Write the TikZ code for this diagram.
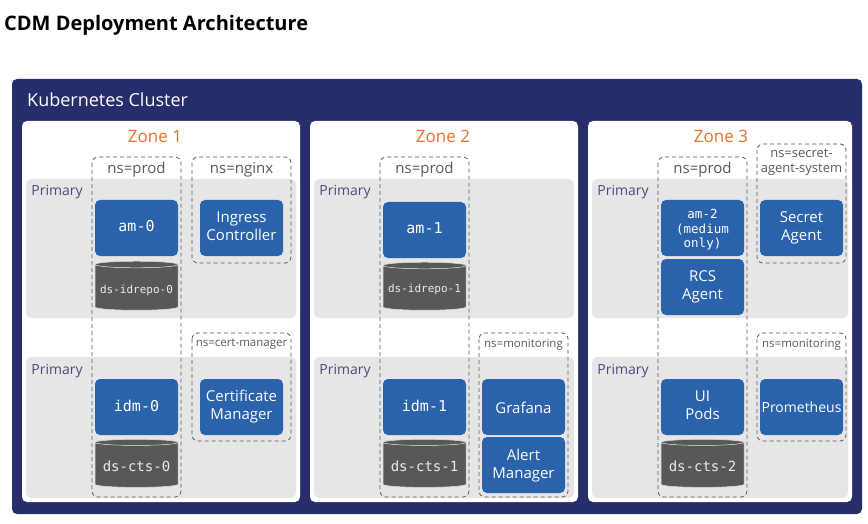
\documentclass[tikz,border=0pt]{standalone}
\usepackage{fontspec}
\setmainfont{Open Sans}
\setmonofont{DejaVu Sans Mono}
\usetikzlibrary{shapes.geometric}
\definecolor{clusterblue}{HTML}{262D6A}
\definecolor{podblue}{HTML}{2A62AC}
\definecolor{panelgray}{HTML}{E6E6E6}
\definecolor{dbgray}{HTML}{585858}
\definecolor{zoneorange}{HTML}{E8702A}
\definecolor{nsgray}{HTML}{5A5A5A}
\tikzset{textdrop/.style={execute at begin node={\rule{0pt}{#1pt}}}}
\tikzstyle{cluster}   = [fill=clusterblue, rounded corners=5pt]
\tikzstyle{zone}      = [fill=white, rounded corners=5pt]
\tikzstyle{panel}     = [fill=panelgray, rounded corners=5pt]
\tikzstyle{nsbox}     = [draw=nsgray, dashed, dash pattern=on 4pt off 3pt, line width=0.8pt, rounded corners=6pt]
\tikzstyle{pod}       = [fill=podblue, rounded corners=5pt, minimum width=83pt, minimum height=56pt, inner sep=0pt, text=white, align=center, font=\fontsize{15}{18}\selectfont, execute at end node={\rule[-3.4pt]{0pt}{12.6pt}}]
\tikzstyle{monopod}   = [pod, font=\fontsize{15}{18}\ttfamily]
\tikzstyle{db}        = [cylinder, shape border rotate=90, aspect=0.09, draw=white!80!dbgray, line width=0.5pt, cylinder uses custom fill, cylinder body fill=dbgray, cylinder end fill=dbgray, minimum width=83pt, inner sep=0pt, text=white!92!black, font=\ttfamily]
\tikzstyle{zonelabel} = [text=zoneorange, font=\fontsize{17}{20}\selectfont]
\tikzstyle{nslabel}   = [text=nsgray, align=center, inner sep=0pt, font=\fontsize{15}{17}\selectfont]
\tikzstyle{smallns}   = [nslabel, font=\fontsize{11.5}{14}\selectfont]
\tikzstyle{primary}   = [text=clusterblue!85!white, inner sep=0pt, font=\fontsize{14}{16}\selectfont]
\begin{document}
\begin{tikzpicture}[x=1pt,y=-1pt]
        \useasboundingbox (0,0) rectangle (868,524);
        \fill[white] (0,0) rectangle (868,524);

        \node[anchor=west, inner sep=0pt, font=\fontsize{20}{24}\bfseries] (title) at (4,25) {CDM Deployment Architecture};

        \fill[cluster] (12,79) rectangle (862,514);
        \node[anchor=west, inner sep=0pt, text=white, font=\fontsize{18}{22}\selectfont] (cluster) at (27,100) {Kubernetes Cluster};

        \fill[zone] (22,121) rectangle (300,502);
        \fill[zone] (310,121) rectangle (578,502);
        \fill[zone] (588,121) rectangle (852,502);
        \node[zonelabel] (zone1) at (155,136.6) {Zone 1};
        \node[zonelabel] (zone2) at (443,136.6) {Zone 2};
        \node[zonelabel] (zone3) at (721,136.6) {Zone 3};

        \fill[panel] (26,179) rectangle (296,318);
        \fill[panel] (26,357) rectangle (296,498);
        \fill[panel] (314,179) rectangle (574,318);
        \fill[panel] (314,357) rectangle (574,498);
        \fill[panel] (592,179) rectangle (848,318);
        \fill[panel] (592,357) rectangle (848,498);
        \node[primary] (primary1a) at (57,192.3) {Primary};
        \node[primary] (primary1b) at (57,371.3) {Primary};
        \node[primary] (primary2a) at (345,192.3) {Primary};
        \node[primary] (primary2b) at (345,371.3) {Primary};
        \node[primary] (primary3a) at (623,192.3) {Primary};
        \node[primary] (primary3b) at (623,371.3) {Primary};

        % namespaces
        \draw[nsbox] (92,157) rectangle (181,497);
        \draw[nsbox] (192,157) rectangle (291,263);
        \draw[nsbox] (192,333) rectangle (291,441);
        \draw[nsbox] (380,157) rectangle (469,497);
        \draw[nsbox] (479,333) rectangle (568,497);
        \draw[nsbox] (658,157) rectangle (747,497);
        \draw[nsbox] (757,144) rectangle (846,263);
        \draw[nsbox] (757,333) rectangle (846,441);
        \node[nslabel] (ns1) at (136.5,170) {ns=prod};
        \node[nslabel] (ns2) at (241.5,170) {ns=nginx};
        \node[smallns] (ns3) at (241.5,344.5) {ns=cert-manager};
        \node[nslabel] (ns4) at (424.5,170) {ns=prod};
        \node[smallns] (ns5) at (523.5,344.5) {ns=monitoring};
        \node[nslabel] (ns6) at (702.5,170) {ns=prod};
        \node[nslabel, font=\fontsize{13}{15.5}\selectfont] (ns7) at (801.5,162.5) {ns=secret-\\agent-system};
        \node[smallns] (ns8) at (801.5,344.5) {ns=monitoring};

        % zone 1
        \node[monopod] (am0) at (136.5,228) {am-0};
        \node[pod] (ingress) at (241.5,228) {Ingress\\Controller};
        \node[db, textdrop=15, minimum height=49pt, font=\fontsize{11}{14}\ttfamily] (idrepo0) at (136.5,287.5) {ds-idrepo-0};
        \node[monopod] (idm0) at (136.5,407) {idm-0};
        \node[pod] (cert) at (241.5,407) {Certificate\\Manager};
        \node[db, textdrop=14, minimum height=48pt, font=\fontsize{14}{17}\ttfamily] (cts0) at (136.5,465) {ds-cts-0};

        % zone 2
        \node[monopod] (am1) at (424.5,230) {am-1};
        \node[db, textdrop=11, minimum height=48pt, font=\fontsize{11}{14}\ttfamily] (idrepo1) at (424.5,288) {ds-idrepo-1};
        \node[monopod] (idm1) at (424.5,407) {idm-1};
        \node[db, textdrop=14, minimum height=48pt, font=\fontsize{14}{17}\ttfamily] (cts1) at (424.5,465) {ds-cts-1};
        \node[pod, textdrop=16.6] (grafana) at (523.5,407) {Grafana};
        \node[pod] (alert) at (523.5,465) {\rule{0pt}{13.5pt}Alert\\Manager};

        % zone 3
        \node[monopod, font=\fontsize{12.5}{14.5}\ttfamily] (am2) at (702.5,228) {\rule{0pt}{14pt}am-2\\(medium\\only)};
        \node[pod] (rcs) at (702.5,287) {RCS\\Agent};
        \node[pod] (secret) at (801.5,228) {Secret\\Agent};
        \node[pod] (ui) at (702.5,407) {UI\\Pods};
        \node[db, textdrop=14, minimum height=48pt, font=\fontsize{14}{17}\ttfamily] (cts2) at (702.5,465) {ds-cts-2};
        \node[pod, textdrop=14.6, font=\fontsize{14}{17}\selectfont] (prometheus) at (801.5,407) {Prometheus};
\end{tikzpicture}
\end{document}
